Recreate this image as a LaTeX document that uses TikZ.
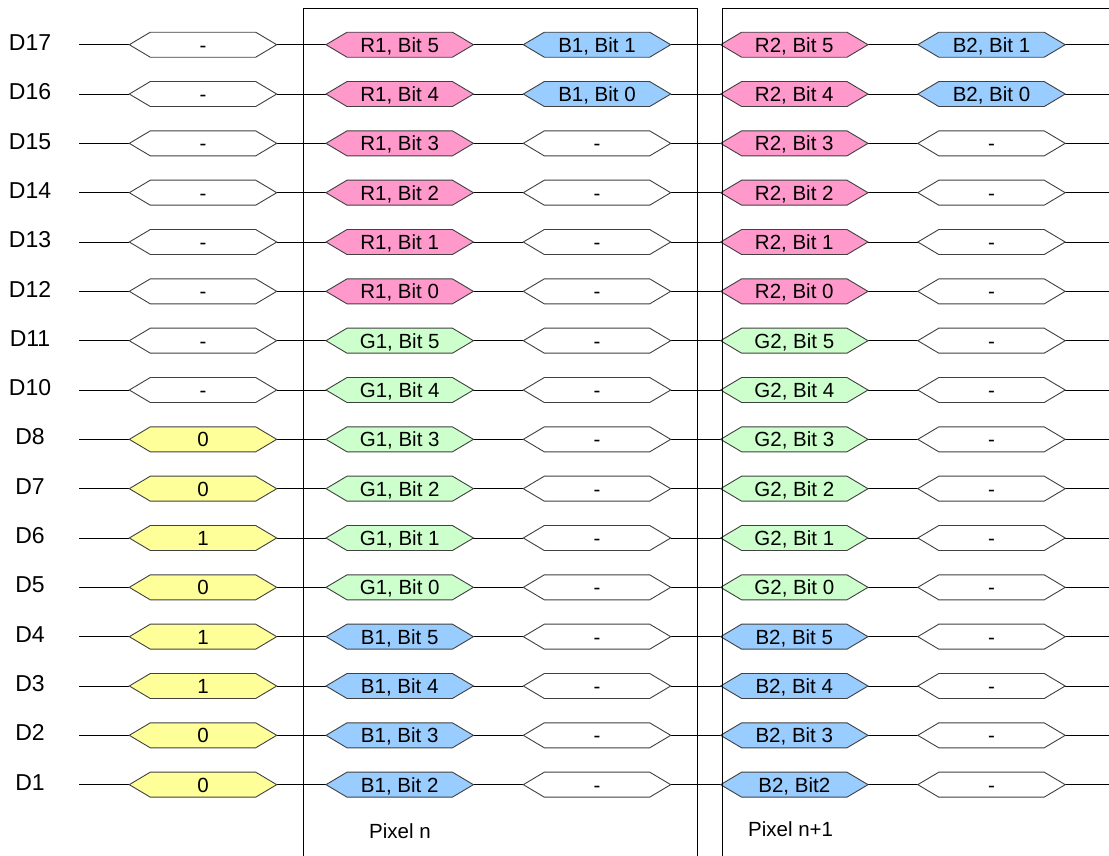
\documentclass[tikz,border=0pt]{standalone}
\usepackage{fontspec}
\setmainfont{Liberation Sans}
\usetikzlibrary{backgrounds}
\definecolor{pinkc}{HTML}{FF99CC}
\definecolor{bluec}{HTML}{99CCFF}
\definecolor{greenc}{HTML}{CCFFCC}
\definecolor{yellowc}{HTML}{FFFF99}
\definecolor{hexborder}{HTML}{404040}
\tikzset{
  hexbox/.style={rectangle, minimum width=105pt, minimum height=24.6pt, inner sep=0pt,
    text height=14.7pt, text depth=0pt, font=\fontsize{20.5}{20.5}\selectfont},
  hexline/.style={draw=hexborder, line width=0.9pt, line join=miter},
  wire/.style={draw=black, line width=0.9pt},
  frame/.style={draw=black, line width=0.9pt},
  rowlabel/.style={inner sep=0pt, text height=16.5pt, text depth=0pt, font=\fontsize{23}{23}\selectfont},
  pixlabel/.style={inner sep=0pt, text height=14.7pt, text depth=0pt, font=\fontsize{20.5}{20.5}\selectfont},
}
\newcommand{\hexat}[4]{% name, x, y, text
  \node[hexbox] (#1) at (#2,#3) {#4};
}
\begin{document}
\begin{tikzpicture}[x=1pt,y=-1pt]
\useasboundingbox (0,0) rectangle (1109,855);
\begin{scope}[on background layer]
\fill[white] (0,0) rectangle (1109,855);
\end{scope}
% frames
\draw[frame] (303,856) -- (303,8) -- (697.5,8) -- (697.5,856);
\draw[frame] (722,856) -- (722,8) -- (1112,8);
\foreach \lab/\ta/\ca/\tb/\cb/\tc/\cc/\td/\cd/\te/\ce [count=\i from 0] in {
 17/-/white/{R1, Bit 5}/pinkc/{B1, Bit 1}/bluec/{R2, Bit 5}/pinkc/{B2, Bit 1}/bluec,
 16/-/white/{R1, Bit 4}/pinkc/{B1, Bit 0}/bluec/{R2, Bit 4}/pinkc/{B2, Bit 0}/bluec,
 15/-/white/{R1, Bit 3}/pinkc/-/white/{R2, Bit 3}/pinkc/-/white,
 14/-/white/{R1, Bit 2}/pinkc/-/white/{R2, Bit 2}/pinkc/-/white,
 13/-/white/{R1, Bit 1}/pinkc/-/white/{R2, Bit 1}/pinkc/-/white,
 12/-/white/{R1, Bit 0}/pinkc/-/white/{R2, Bit 0}/pinkc/-/white,
 11/-/white/{G1, Bit 5}/greenc/-/white/{G2, Bit 5}/greenc/-/white,
 10/-/white/{G1, Bit 4}/greenc/-/white/{G2, Bit 4}/greenc/-/white,
 8/0/yellowc/{G1, Bit 3}/greenc/-/white/{G2, Bit 3}/greenc/-/white,
 7/0/yellowc/{G1, Bit 2}/greenc/-/white/{G2, Bit 2}/greenc/-/white,
 6/1/yellowc/{G1, Bit 1}/greenc/-/white/{G2, Bit 1}/greenc/-/white,
 5/0/yellowc/{G1, Bit 0}/greenc/-/white/{G2, Bit 0}/greenc/-/white,
 4/1/yellowc/{B1, Bit 5}/bluec/-/white/{B2, Bit 5}/bluec/-/white,
 3/1/yellowc/{B1, Bit 4}/bluec/-/white/{B2, Bit 4}/bluec/-/white,
 2/0/yellowc/{B1, Bit 3}/bluec/-/white/{B2, Bit 3}/bluec/-/white,
 1/0/yellowc/{B1, Bit 2}/bluec/-/white/{B2, Bit2}/bluec/-/white} {
  \pgfmathsetmacro{\y}{44.7+49.33*\i}
  \node[rowlabel] (lab\i) at (30,\y-2.6) {D\lab};
  \coordinate (ws\i) at (79,\y);
  \coordinate (we\i) at (1112,\y);
  \hexat{h\i-1}{203}{\y}{\ta}
  \hexat{h\i-2}{399.7}{\y}{\tb}
  \hexat{h\i-3}{597}{\y}{\tc}
  \hexat{h\i-4}{794.3}{\y}{\td}
  \hexat{h\i-5}{991.5}{\y}{\te}
  \foreach \k in {1,...,5} {
    \coordinate (h\i-\k-L) at ([xshift=-21pt]h\i-\k.west);
    \coordinate (h\i-\k-R) at ([xshift=21pt]h\i-\k.east);
  }
  \begin{scope}[on background layer]
    \draw[wire] (ws\i) -- (h\i-1-L);
    \draw[wire] (h\i-1-R) -- (h\i-2-L);
    \draw[wire] (h\i-2-R) -- (h\i-3-L);
    \draw[wire] (h\i-3-R) -- (h\i-4-L);
    \draw[wire] (h\i-4-R) -- (h\i-5-L);
    \draw[wire] (h\i-5-R) -- (we\i);
    \foreach \k/\col in {1/\ca,2/\cb,3/\cc,4/\cd,5/\ce} {
      \filldraw[hexline, fill=\col] (h\i-\k-L) -- (h\i-\k.north west) -- (h\i-\k.north east)
        -- (h\i-\k-R) -- (h\i-\k.south east) -- (h\i-\k.south west) -- cycle;
    }
  \end{scope}
}
\node[pixlabel] (pixn) at (400,831.5) {Pixel n};
\node[pixlabel, anchor=west] (pixn1) at (748,829.5) {Pixel n+1};
\end{tikzpicture}
\end{document}
